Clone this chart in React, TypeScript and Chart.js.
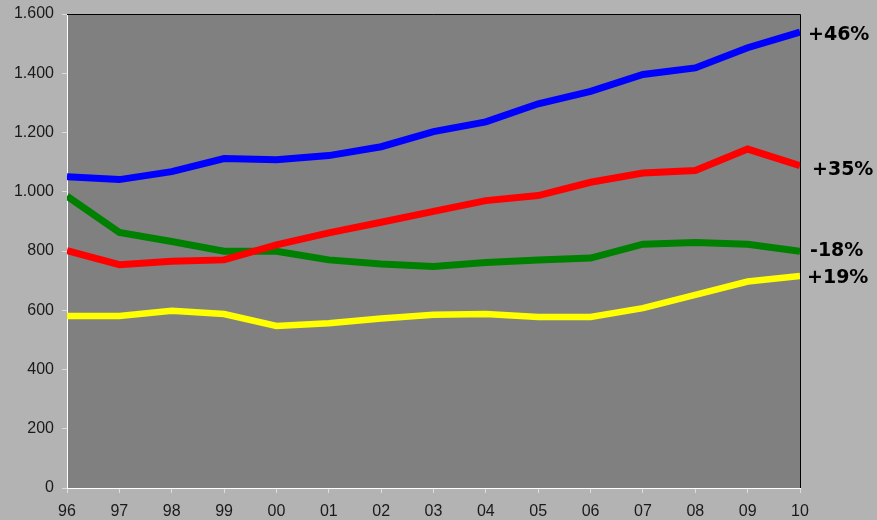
import React, { useEffect, useRef } from "react";
import { Chart, registerables } from "chart.js";

Chart.register(...registerables);

const years = ["96", "97", "98", "99", "00", "01", "02", "03", "04", "05", "06", "07", "08", "09", "10"];
const blueSeries = [1051, 1041, 1068, 1112, 1108, 1122, 1152, 1203, 1236, 1297, 1339, 1396, 1418, 1486, 1539];
const redSeries = [801, 754, 765, 770, 821, 861, 897, 934, 970, 987, 1032, 1063, 1072, 1144, 1088];
const greenSeries = [985, 863, 832, 799, 799, 770, 756, 748, 761, 770, 776, 823, 829, 823, 799];
const yellowSeries = [581, 581, 598, 587, 547, 556, 572, 585, 587, 577, 577, 607, 652, 697, 716];
const endLabels = ["+46%", "+35%", "-18%", "+19%"];
const yTicks = [0, 200, 400, 600, 800, 1000, 1200, 1400, 1600];

const labelDy = [3, 4, 0, 2];
const labelDx = [8, 12, 10, 7];

function fmt(v: number): string {
  const s = String(Math.round(v));
  return s.replace(/\B(?=(\d{3})+(?!\d))/g, ".");
}

const bgPlugin = {
  id: "bgPlugin",
  beforeDraw(chart: any) {
    const { ctx, chartArea } = chart;
    ctx.save();
    ctx.fillStyle = "#b3b3b3";
    ctx.fillRect(0, 0, chart.width, chart.height);
    ctx.fillStyle = "#808080";
    ctx.fillRect(chartArea.left, chartArea.top, chartArea.right - chartArea.left, chartArea.bottom - chartArea.top);
    ctx.restore();
  },
  beforeDatasetsDraw(chart: any) {
    const { ctx, chartArea } = chart;
    ctx.save();
    ctx.strokeStyle = "#000000";
    ctx.lineWidth = 1;
    ctx.beginPath();
    ctx.moveTo(chartArea.left, chartArea.top + 0.5);
    ctx.lineTo(chartArea.right + 0.5, chartArea.top + 0.5);
    ctx.lineTo(chartArea.right + 0.5, chartArea.bottom);
    ctx.stroke();
    ctx.restore();
  },
  afterDraw(chart: any) {
    const { ctx, chartArea } = chart;
    const yScale = chart.scales.y;
    ctx.save();
    ctx.fillStyle = "#000000";
    ctx.font = "bold 19px 'DejaVu Sans'";
    ctx.textAlign = "left";
    ctx.textBaseline = "middle";
    chart.data.datasets.forEach((ds: any, i: number) => {
      const last = ds.data[ds.data.length - 1];
      const y = yScale.getPixelForValue(last) + labelDy[i];
      ctx.fillText(endLabels[i], chartArea.right + labelDx[i], y);
    });
    ctx.restore();
  },
};

export default function App() {
  const ref = useRef<HTMLCanvasElement | null>(null);

  useEffect(() => {
    if (!ref.current) return;
    const chart = new Chart(ref.current, {
      type: "line",
      data: {
        labels: years,
        datasets: [
          { data: blueSeries, borderColor: "#0000ff", borderWidth: 7, pointRadius: 0, tension: 0, clip: 0 },
          { data: redSeries, borderColor: "#ff0000", borderWidth: 7, pointRadius: 0, tension: 0, clip: 0 },
          { data: greenSeries, borderColor: "#008000", borderWidth: 7, pointRadius: 0, tension: 0, clip: 0 },
          { data: yellowSeries, borderColor: "#ffff00", borderWidth: 6.5, pointRadius: 0, tension: 0, clip: 0 },
        ],
      },
      options: {
        responsive: false,
        animation: false,
        devicePixelRatio: 1,
        layout: { padding: { left: 0, right: 77, top: 14, bottom: 0 } },
        plugins: { legend: { display: false }, tooltip: { enabled: false }, title: { display: false } },
        scales: {
          x: {
            type: "category",
            offset: false,
            afterFit(scale: any) {
              scale.height = 32;
              scale.paddingLeft = 0;
              scale.paddingRight = 0;
            },
            grid: { drawOnChartArea: false, drawTicks: true, tickLength: 5, color: "#dcdcdc" },
            border: { display: true, color: "#ffffff", width: 1 },
            ticks: {
              color: "#1a1a1a",
              font: { family: "'Liberation Sans', Arial", size: 16 },
              padding: 9,
              maxRotation: 0,
              autoSkip: false,
            },
          },
          y: {
            min: 0,
            max: 1600,
            afterFit(scale: any) {
              scale.width = 67;
              scale.paddingTop = 0;
              scale.paddingBottom = 0;
            },
            afterBuildTicks(scale: any) {
              scale.ticks = yTicks.map((v) => ({ value: v }));
            },
            grid: { drawOnChartArea: false, drawTicks: true, tickLength: 5, color: "#dcdcdc" },
            border: { display: true, color: "#ffffff", width: 1 },
            ticks: {
              color: "#1a1a1a",
              font: { family: "'Liberation Sans', Arial", size: 16 },
              padding: 8,
              callback: (v: any) => fmt(Number(v)),
            },
          },
        },
      },
      plugins: [bgPlugin],
    });
    return () => chart.destroy();
  }, []);

  return (
    <div style={{ position: "fixed", left: 0, top: 0, width: 877, height: 520 }}>
      <canvas ref={ref} width={877} height={520} style={{ display: "block" }} />
    </div>
  );
}
